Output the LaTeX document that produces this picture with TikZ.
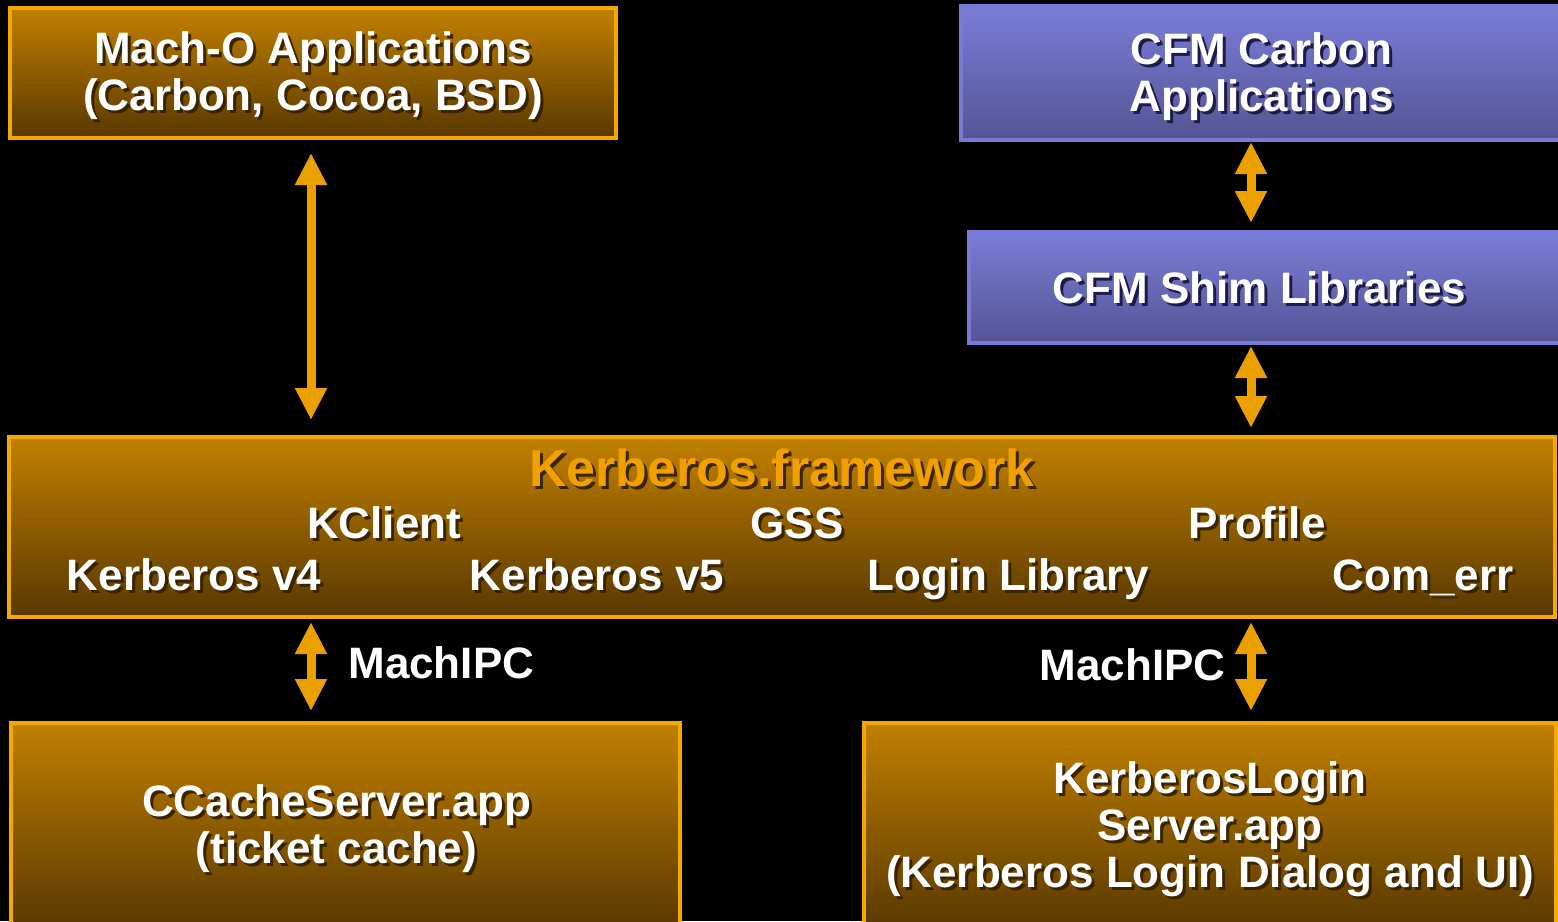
\documentclass[tikz,border=0pt]{standalone}
\usepackage{fontspec}
\setmainfont{Liberation Sans}
\usetikzlibrary{arrows.meta,positioning}

\definecolor{kborder}{RGB}{245,168,0}
\definecolor{ktop}{RGB}{194,128,0}
\definecolor{kbottom}{RGB}{88,56,0}
\definecolor{kshadow}{RGB}{58,36,0}
\definecolor{ktitle}{RGB}{240,160,0}
\definecolor{cborder}{RGB}{122,122,214}
\definecolor{ctop}{RGB}{122,125,216}
\definecolor{cbottom}{RGB}{84,84,148}
\definecolor{cshadow}{RGB}{28,28,72}
\definecolor{karrow}{RGB}{236,160,0}

\newcommand{\shtxt}[2][kshadow]{\rlap{\hspace{1.5pt}\raisebox{-1.5pt}{\textcolor{#1}{#2}}}#2}
\newcommand{\lowerby}[1]{\rule{0pt}{#1}}

\begin{document}
\begin{tikzpicture}[
    x=0.5pt, y=-0.5pt,
    font=\bfseries\fontsize{22}{23.5}\selectfont,
    kbox/.style={
        draw=kborder,
        top color=ktop,
        bottom color=kbottom,
        text=white,
        align=center,
        inner sep=0pt,
        outer sep=0pt,
        line width=2pt
    },
    cbox/.style={
        draw=cborder,
        top color=ctop,
        bottom color=cbottom,
        text=white,
        align=center,
        inner sep=0pt,
        outer sep=0pt,
        line width=2pt
    },
    item/.style={
        text=white,
        anchor=base,
        inner sep=0pt
    },
    dblarrow/.style={
        {Triangle[width=15pt,length=16pt]}-{Triangle[width=15pt,length=16pt]},
        draw=karrow,
        line width=4.5pt
    }
]

\useasboundingbox (0,0) rectangle (1558,921);
\fill[black] (0,0) rectangle (1558,921);

\coordinate (lcol) at (311,0);
\coordinate (rcol) at (1251,0);

\node[kbox, minimum width=303pt, minimum height=65pt] (macho) at (313,73) {
    \lowerby{20.5pt}\shtxt{Mach-O Applications}\\
    \shtxt{(Carbon, Cocoa, BSD)}
};

\node[cbox, minimum width=300.5pt, minimum height=67pt] (cfm) at (1261.5,73) {
    \lowerby{21.5pt}\shtxt[cshadow]{CFM Carbon}\\
    \shtxt[cshadow]{Applications}
};

\node[cbox, minimum width=297pt, minimum height=55.5pt, below=46pt of cfm, xshift=2pt] (shim) {
    \lowerby{18pt}\shtxt[cshadow]{CFM Shim Libraries}
};

\node[kbox, minimum width=773pt, minimum height=90pt] (fw) at (782,527) {};

\node[item, text=ktitle, font=\bfseries\fontsize{26}{28}\selectfont] (title) at (782,486) {\shtxt{Kerberos.framework}};
\node[item] (kclient) at (384,538) {\shtxt{KClient}};
\node[item] (gss) at (797,538) {\shtxt{GSS}};
\node[item] (profile) at (1257,538) {\shtxt{Profile}};
\node[item] (krbfour) at (194,590) {\shtxt{Kerberos v4}};
\node[item] (krbfive) at (597,590) {\shtxt{Kerberos v5}};
\node[item] (loginlib) at (1008,590) {\shtxt{Login Library}};
\node[item] (comerr) at (1423,590) {\shtxt{Com\_err}};

\node[kbox, minimum width=334.5pt, minimum height=103.5pt, below right=53pt and 1pt of fw.south west] (ccache) {
    \lowerby{20pt}\shtxt{CCacheServer.app}\hspace*{9pt}\\
    \shtxt{(ticket cache)}\hspace*{9pt}
};

\node[kbox, minimum width=346pt, minimum height=103.5pt, below left=53pt and -0.5pt of fw.south east] (klogin) {
    \lowerby{20pt}\shtxt{KerberosLogin}\\
    \shtxt{Server.app}\\
    \shtxt{(Kerberos Login Dialog and UI)}
};

\node[text=white, anchor=base west, inner sep=0pt] (ipcleft) at (348,678) {MachIPC};
\node[text=white, anchor=base east, inner sep=0pt] (ipcright) at (1226,680) {MachIPC};

\draw[dblarrow, shorten <=7.5pt, shorten >=8.5pt] (macho.south -| lcol) -- (fw.north -| lcol);
\draw[dblarrow, shorten <=1pt, shorten >=4.5pt] (cfm.south -| rcol) -- (shim.north -| rcol);
\draw[dblarrow, shorten <=1.5pt, shorten >=4.5pt] (shim.south -| rcol) -- (fw.north -| rcol);
\draw[dblarrow, shorten <=2.5pt, shorten >=6pt] (fw.south -| lcol) -- (ccache.north -| lcol);
\draw[dblarrow, shorten <=2.5pt, shorten >=6pt] (fw.south -| rcol) -- (klogin.north -| rcol);

\end{tikzpicture}
\end{document}
